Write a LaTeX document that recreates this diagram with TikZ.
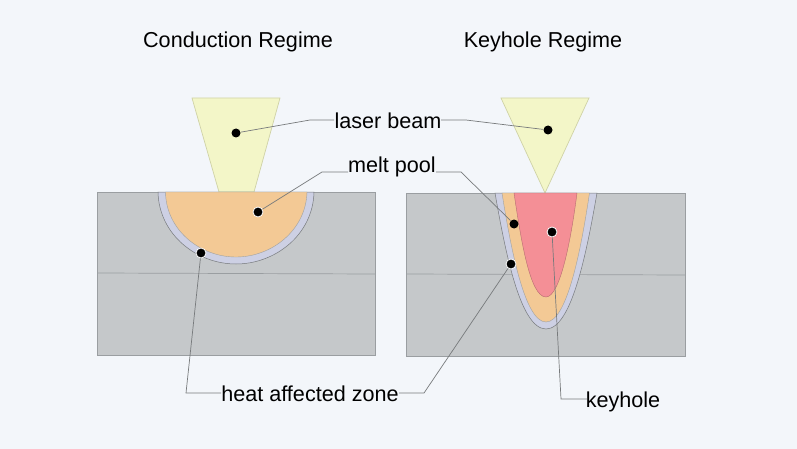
\documentclass[tikz,border=0pt]{standalone}
\usepackage{fontspec}
\setmainfont{Liberation Sans}
\definecolor{bg}{HTML}{F3F6FA}
\definecolor{steel}{HTML}{C5C8CA}
\definecolor{steeledge}{HTML}{9A9EA1}
\definecolor{beam}{HTML}{F3F6C8}
\definecolor{beamedge}{HTML}{CFD2A6}
\definecolor{melt}{HTML}{F3C995}
\definecolor{haz}{HTML}{CDD0E4}
\definecolor{hole}{HTML}{F48F96}
\definecolor{leader}{HTML}{777A7C}
\tikzset{
  block/.style={fill=steel,draw=steeledge,line width=.7pt},
  divide/.style={draw=steeledge,line width=.7pt},
  beamshape/.style={fill=beam,draw=beamedge,line width=.7pt},
  hazshape/.style={fill=haz,draw=leader,line width=.5pt},
  meltshape/.style={fill=melt,draw=leader!70,line width=.4pt},
  holeshape/.style={fill=hole,draw=hole!75!black,line width=.4pt},
  dot/.style={circle,fill=black,inner sep=0pt,minimum size=10pt,draw=white,line width=.8pt},
  plaindot/.style={dot,draw=none,minimum size=9pt},
  lead/.style={draw=leader,line width=.7pt},
  label/.style={text=black,font=\fontsize{21.6}{25}\selectfont,inner sep=1pt},
  title/.style={text=black,font=\fontsize{21.6}{25}\selectfont,inner sep=0pt}
}
\begin{document}
\begin{tikzpicture}[x=1pt,y=-1pt]
\useasboundingbox (0,0) rectangle (797,449);
\fill[bg] (0,0) rectangle (797,449);
% blocks
\draw[block] (97,192) rectangle (375,355);
\draw[divide] (97,273) -- (375,274);
\draw[block] (406,193) rectangle (685,356);
\draw[divide] (406,274) -- (685,275);
% left regime
\draw[beamshape] (192,98) -- (280,98) -- (254,192) -- (219,192) -- cycle;
\draw[hazshape] (158,192) .. controls (159,235) and (197,264) .. (236,264) .. controls (275,264) and (313,235) .. (314,192) -- cycle;
\draw[meltshape] (165.5,192) .. controls (166,230) and (200,257) .. (236,257) .. controls (272,257) and (306,230) .. (307,192) -- cycle;
% right regime
\draw[beamshape] (501,98) -- (589,98) -- (545,193) -- cycle;
\draw[hazshape] (495,193) .. controls (505,250) and (520,329) .. (546,329) .. controls (572,329) and (587,250) .. (597,193) -- cycle;
\draw[meltshape] (502,193) .. controls (511,250) and (525,322) .. (546,322) .. controls (567,322) and (581,250) .. (589.5,193) -- cycle;
\draw[holeshape] (514,193) .. controls (521,240) and (530,297) .. (546,297) .. controls (560,297) and (571,240) .. (577,193) -- cycle;
% texts
\node[title] (t1) at (238,42) {Conduction Regime};
\node[title] (t2) at (543,42) {Keyhole Regime};
\node[label] (lb) at (388,120.500) {laser beam};
\node[label] (mp) at (392,166.500) {melt pool};
\node[label] (hz) at (310,394) {heat affected zone};
\node[label] (kh) at (623,401.500) {keyhole};
% dots
\node[plaindot] (d1) at (236,133) {};
\node[plaindot] (d2) at (548,130) {};
\node[dot] (d3) at (258,212) {};
\node[plaindot] (d4) at (514,224) {};
\node[dot] (d5) at (201,253) {};
\node[dot] (d6) at (511,264) {};
\node[dot] (d7) at (552,232) {};
% bends
\coordinate (b1) at (310,120);
\coordinate (b2) at (466,120);
\coordinate (b3) at (322,172);
\coordinate (b4) at (461,172);
\coordinate (b5) at (186,393);
\coordinate (b6) at (424,393);
\coordinate (b7) at (561,399);
\coordinate (e1) at (334,120);
\coordinate (e2) at (441,120);
\coordinate (e3) at (348,172);
\coordinate (e4) at (436,172);
\coordinate (e5) at (221,393);
\coordinate (e6) at (399,393);
\coordinate (e7) at (587,399);
% leaders
\draw[lead] (d1) -- (b1) -- (e1);
\draw[lead] (d2) -- (b2) -- (e2);
\draw[lead] (d3) -- (b3) -- (e3);
\draw[lead] (d4) -- (b4) -- (e4);
\draw[lead] (d5) -- (b5) -- (e5);
\draw[lead] (d6) -- (b6) -- (e6);
\draw[lead] (d7) -- (b7) -- (e7);
\end{tikzpicture}
\end{document}
